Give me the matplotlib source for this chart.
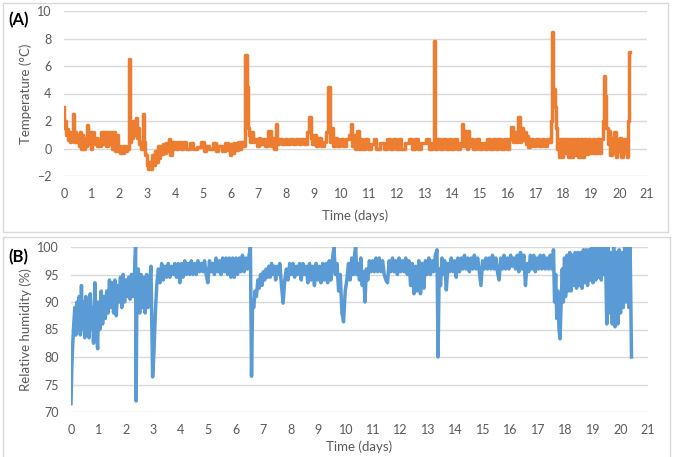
import matplotlib
matplotlib.use("Agg")
import matplotlib.pyplot as plt
from matplotlib.patches import Rectangle

plt.rcParams['font.family'] = ['Lato', 'DejaVu Sans']

# temperature (panel A): time in days, value in degC
temp_t = [0.00, 0.03, 0.06, 0.09, 0.12, 0.15, 0.18, 0.22, 0.26, 0.30,
          0.35, 0.38, 0.42, 0.46, 0.50, 0.55, 0.60, 0.64, 0.68, 0.72,
          0.76, 0.80, 0.86, 0.90, 0.95, 1.00, 1.05, 1.10, 1.15, 1.20,
          1.25, 1.30, 1.40, 1.45, 1.50, 1.55, 1.60, 1.65, 1.70, 1.75,
          1.80, 1.85, 1.92, 1.96, 2.00, 2.05, 2.10, 2.15, 2.20, 2.25,
          2.30, 2.36, 2.40, 2.44, 2.48, 2.52, 2.56, 2.60, 2.64, 2.68,
          2.72, 2.76, 2.80, 2.86, 2.90, 2.95, 3.00, 3.05, 3.10, 3.15,
          3.20, 3.25, 3.30, 3.35, 3.40, 3.45, 3.50, 3.55, 3.60, 3.65,
          3.70, 3.75, 3.80, 3.85, 3.90, 3.95, 4.00, 4.05, 4.15, 4.25,
          4.35, 4.45, 4.60, 4.70, 4.85, 5.00, 5.05, 5.15, 5.30, 5.45,
          5.50, 5.60, 5.75, 5.85, 5.95, 6.00, 6.05, 6.10, 6.15, 6.20,
          6.30, 6.35, 6.42, 6.48, 6.55, 6.60, 6.64, 6.68, 6.72, 6.78,
          6.82, 6.90, 7.00, 7.05, 7.10, 7.20, 7.30, 7.42, 7.48, 7.55,
          7.60, 7.65, 7.70, 7.80, 7.90, 8.00, 8.10, 8.20, 8.30, 8.40,
          8.50, 8.60, 8.70, 8.80, 8.86, 8.92, 8.98, 9.05, 9.10, 9.20,
          9.30, 9.40, 9.48, 9.55, 9.60, 9.65, 9.70, 9.80, 9.90, 10.00,
          10.10, 10.20, 10.30, 10.34, 10.40, 10.45, 10.50, 10.60, 10.65, 10.70,
          10.80, 10.90, 11.00, 11.10, 11.20, 11.30, 11.45, 11.60, 11.70, 11.80,
          11.90, 12.00, 12.10, 12.20, 12.35, 12.50, 12.60, 12.70, 12.80, 12.95,
          13.10, 13.20, 13.30, 13.35, 13.40, 13.50, 13.60, 13.70, 13.80, 13.90,
          14.00, 14.10, 14.20, 14.30, 14.35, 14.40, 14.48, 14.52, 14.58, 14.62,
          14.70, 14.80, 14.90, 15.00, 15.10, 15.20, 15.30, 15.40, 15.50, 15.60,
          15.70, 15.80, 15.90, 16.00, 16.05, 16.12, 16.20, 16.25, 16.30, 16.38,
          16.45, 16.50, 16.55, 16.60, 16.65, 16.70, 16.75, 16.85, 16.95, 17.05,
          17.15, 17.25, 17.35, 17.45, 17.50, 17.55, 17.60, 17.65, 17.70, 17.75,
          17.80, 17.85, 17.90, 17.95, 18.00, 18.05, 18.12, 18.18, 18.25, 18.30,
          18.38, 18.45, 18.50, 18.55, 18.62, 18.70, 18.78, 18.85, 18.92, 19.00,
          19.08, 19.15, 19.22, 19.30, 19.38, 19.42, 19.47, 19.52, 19.56, 19.60,
          19.65, 19.70, 19.75, 19.80, 19.85, 19.90, 19.95, 20.00, 20.05, 20.10,
          20.15, 20.20, 20.25, 20.30, 20.33, 20.37]
temp_v = [3.0, 1.5, 2.0, 1.0, 1.4, 0.6, 1.2, 0.5, 1.1, 0.6,
          2.5, 0.5, 1.2, 0.5, 1.0, 0.2, 1.2, 0.0, 1.0, 0.0,
          0.8, 0.2, 1.7, 0.3, 1.2, 0.0, 1.2, 0.3, 0.8, 0.2,
          0.7, 0.2, 1.2, 0.3, 1.2, 0.2, 1.2, 0.3, 1.2, 0.0,
          1.2, -0.2, 1.0, -0.2, 0.2, -0.3, 0.2, -0.3, 0.2, -0.2,
          0.0, 6.5, 0.5, 1.5, 0.8, 2.0, 1.0, 2.2, 0.8, 1.5,
          0.3, 0.5, 0.0, 2.5, 0.5, -0.5, -1.2, -1.5, -1.0, -1.5,
          -0.5, -1.2, -0.2, -1.0, 0.2, -0.7, 0.2, -0.4, 0.3, -0.3,
          0.4, -0.2, 0.7, -0.5, 0.5, 0.0, 0.5, 0.0, 0.5, 0.0,
          0.5, 0.0, 0.4, 0.0, 0.1, 0.5, -0.2, 0.2, 0.0, 0.4,
          -0.2, 0.2, -0.2, 0.4, -0.1, -0.5, 0.3, -0.3, 0.4, -0.1,
          0.5, 0.0, 0.5, 0.2, 6.8, 4.5, 1.5, 1.0, 0.5, 1.2,
          0.5, 0.7, 0.2, 0.8, 0.3, 0.7, 0.2, 1.3, 0.2, 0.8,
          0.0, 1.8, 0.3, 0.7, 0.3, 0.7, 0.3, 0.7, 0.3, 0.7,
          0.3, 0.7, 0.3, 1.2, 2.3, 0.8, 0.3, 1.0, 0.2, 0.8,
          0.2, 0.5, 1.2, 4.5, 0.5, 1.5, 0.2, 0.8, 0.2, 0.7,
          0.2, 0.7, 1.0, 1.8, 0.2, 1.0, 0.0, 1.3, 0.0, 0.7,
          0.0, 0.7, 0.0, 0.3, 0.7, 0.0, 0.4, 0.0, 0.7, 0.0,
          0.7, 0.0, 0.7, 0.0, 0.4, 0.7, 0.0, 0.7, 0.0, 0.4,
          0.7, 0.0, 0.4, 7.8, 0.0, 0.7, 0.0, 0.7, 0.0, 0.7,
          0.0, 0.7, 0.0, 0.4, 1.8, 0.2, 1.3, 0.0, 1.3, 0.2,
          0.7, 0.0, 0.7, 0.0, 0.4, 0.0, 0.7, 0.0, 0.7, 0.0,
          0.7, 0.0, 0.7, 0.0, 0.7, 1.6, 0.5, 1.2, 0.5, 2.3,
          0.5, 1.5, 0.6, 1.2, 0.3, 0.9, 0.1, 0.7, 0.2, 0.7,
          0.2, 0.7, 0.2, 0.7, 0.5, 2.0, 8.5, 4.3, 3.0, 1.5,
          0.0, -0.6, 0.7, -0.6, 0.7, -0.3, 0.7, -0.6, 0.7, -0.6,
          0.7, -0.5, 0.7, -0.6, 0.7, -0.6, 0.7, -0.4, 0.7, -0.3,
          0.7, -0.3, 0.7, -0.3, 0.7, 2.0, 5.3, 3.8, 1.5, 0.3,
          1.3, -0.5, 0.8, -0.3, 1.2, -0.6, 0.7, -0.2, 0.8, -0.6,
          0.7, -0.3, 0.7, -0.6, 2.0, 7.0]

# relative humidity (panel B): time in days, value in %
rh_t = [0.00, 0.03, 0.06, 0.10, 0.14, 0.18, 0.22, 0.26, 0.30, 0.34,
        0.38, 0.42, 0.46, 0.50, 0.54, 0.58, 0.62, 0.66, 0.70, 0.74,
        0.78, 0.82, 0.87, 0.92, 0.97, 1.00, 1.05, 1.10, 1.15, 1.20,
        1.25, 1.30, 1.35, 1.40, 1.45, 1.50, 1.55, 1.60, 1.65, 1.70,
        1.75, 1.80, 1.85, 1.90, 1.95, 2.00, 2.05, 2.10, 2.15, 2.20,
        2.25, 2.30, 2.35, 2.37, 2.40, 2.45, 2.50, 2.55, 2.60, 2.65,
        2.70, 2.75, 2.80, 2.85, 2.91, 2.97, 3.02, 3.07, 3.12, 3.18,
        3.24, 3.30, 3.36, 3.42, 3.48, 3.54, 3.60, 3.66, 3.72, 3.78,
        3.84, 3.90, 3.96, 4.02, 4.08, 4.14, 4.20, 4.26, 4.32, 4.38,
        4.44, 4.50, 4.56, 4.62, 4.68, 4.74, 4.80, 4.86, 4.92, 4.98,
        5.04, 5.10, 5.16, 5.22, 5.28, 5.34, 5.40, 5.46, 5.52, 5.58,
        5.64, 5.70, 5.76, 5.82, 5.88, 5.94, 6.00, 6.06, 6.12, 6.18,
        6.24, 6.30, 6.36, 6.42, 6.48, 6.53, 6.57, 6.61, 6.65, 6.70,
        6.75, 6.80, 6.85, 6.90, 6.95, 7.00, 7.05, 7.10, 7.15, 7.20,
        7.25, 7.30, 7.35, 7.40, 7.45, 7.50, 7.55, 7.60, 7.66, 7.72,
        7.78, 7.84, 7.90, 7.96, 8.02, 8.08, 8.14, 8.20, 8.26, 8.32,
        8.38, 8.44, 8.50, 8.56, 8.62, 8.68, 8.74, 8.80, 8.86, 8.92,
        8.98, 9.04, 9.10, 9.16, 9.22, 9.28, 9.34, 9.40, 9.46, 9.52,
        9.57, 9.62, 9.68, 9.74, 9.80, 9.86, 9.92, 9.98, 10.04, 10.10,
        10.16, 10.22, 10.28, 10.33, 10.36, 10.40, 10.45, 10.50, 10.55, 10.60,
        10.65, 10.70, 10.75, 10.80, 10.86, 10.92, 10.98, 11.04, 11.10, 11.16,
        11.22, 11.28, 11.34, 11.40, 11.46, 11.52, 11.58, 11.64, 11.70, 11.76,
        11.82, 11.88, 11.94, 12.00, 12.06, 12.12, 12.18, 12.24, 12.30, 12.36,
        12.42, 12.48, 12.54, 12.60, 12.66, 12.72, 12.78, 12.84, 12.90, 12.96,
        13.02, 13.08, 13.14, 13.20, 13.26, 13.32, 13.36, 13.40, 13.45, 13.50,
        13.55, 13.60, 13.66, 13.72, 13.78, 13.84, 13.90, 13.96, 14.02, 14.08,
        14.14, 14.20, 14.26, 14.32, 14.38, 14.44, 14.50, 14.56, 14.62, 14.68,
        14.74, 14.80, 14.86, 14.92, 14.98, 15.04, 15.10, 15.16, 15.22, 15.28,
        15.34, 15.40, 15.46, 15.52, 15.58, 15.64, 15.70, 15.76, 15.82, 15.88,
        15.94, 16.00, 16.06, 16.12, 16.18, 16.24, 16.30, 16.36, 16.42, 16.48,
        16.54, 16.60, 16.66, 16.72, 16.78, 16.84, 16.90, 16.96, 17.02, 17.08,
        17.14, 17.20, 17.26, 17.32, 17.38, 17.44, 17.50, 17.56, 17.60, 17.64,
        17.68, 17.72, 17.76, 17.80, 17.84, 17.88, 17.92, 17.96, 18.00, 18.05,
        18.10, 18.15, 18.20, 18.25, 18.30, 18.35, 18.40, 18.45, 18.50, 18.55,
        18.60, 18.65, 18.70, 18.75, 18.80, 18.85, 18.90, 18.95, 19.00, 19.05,
        19.10, 19.15, 19.20, 19.25, 19.30, 19.35, 19.40, 19.45, 19.50, 19.55,
        19.60, 19.65, 19.70, 19.75, 19.80, 19.85, 19.90, 19.95, 20.00, 20.05,
        20.10, 20.15, 20.20, 20.25, 20.30, 20.35, 20.40]
rh_v = [71.5, 78, 82, 86, 89, 84, 90, 85, 91, 84,
        93, 85, 90, 83.5, 91, 84, 89, 83.5, 91.5, 85,
        89, 82.5, 93.5, 85, 81.5, 90, 85, 92, 86, 91,
        87, 92, 88, 94, 89, 93.5, 88, 94, 87.5, 93,
        90, 94.5, 89, 95, 90, 94, 91, 94.5, 90.5, 95,
        91, 94, 100, 72, 92, 96, 88, 95, 89, 94.5,
        88, 95, 89, 93, 96.5, 76.4, 81, 88, 93, 96,
        93.5, 97, 94, 96.5, 94.5, 97, 94.5, 96.5, 95, 97,
        94.5, 97, 93.5, 97, 94.5, 97.5, 95, 97, 95, 97.5,
        95, 97, 95, 97.5, 95.5, 97, 95.5, 97.5, 95, 93.5,
        97.5, 95.5, 97, 95, 98, 95.5, 97.5, 95, 98, 95.5,
        98, 95, 98, 94.5, 98, 94.5, 98, 95, 98, 95.5,
        98.5, 95.5, 98, 96, 98.5, 100, 76.5, 90, 89, 92,
        91, 94, 92.5, 95, 93, 95.5, 94, 96, 94.5, 96.5,
        94.5, 97, 95, 96.5, 94, 96.5, 95, 97, 93, 89.8,
        94, 96, 94, 97, 95, 97, 94.5, 96.5, 95, 97,
        94, 97, 95, 96.5, 93.5, 97, 94, 96.5, 93, 97,
        94, 96.5, 93.5, 97, 94, 97, 93.5, 97.5, 94, 98,
        100, 95, 97, 92, 95, 88, 86.4, 92, 94, 97,
        94, 98, 95, 99, 100, 95, 97, 94, 98, 93,
        95.5, 90, 96, 94, 97.5, 95.5, 97.5, 95.5, 98, 95.5,
        98, 95.5, 97.5, 95, 94, 93.5, 97.5, 95.5, 98, 95.5,
        97.5, 95, 98, 95.5, 97.5, 95.5, 98, 95, 97.5, 93,
        97, 91.5, 96.5, 92, 97.5, 91.5, 97, 92.5, 97.5, 95,
        98, 95, 97.5, 95.5, 98.5, 99.5, 80, 96, 93, 98,
        95, 97.5, 92.2, 97, 95.5, 98, 95.5, 97.5, 94.5, 98,
        95.5, 98, 96, 98.5, 96, 98, 95.5, 98, 96, 98.5,
        96, 98, 95.5, 93, 97.5, 96, 98, 96, 98, 96,
        98.5, 96, 98, 95.5, 94, 98, 96, 98.5, 96, 98,
        96, 98.5, 96.5, 98, 96, 98.5, 95.5, 99, 96, 98.5,
        93, 97, 95.5, 98.5, 96, 98.5, 95.5, 98, 96, 98.5,
        96, 98.5, 96, 98, 96, 98.5, 96, 99.5, 90, 95,
        87, 92, 85, 83.3, 90, 96, 90, 98, 91, 98.5,
        92, 99, 92, 98.5, 93, 99, 92.5, 99, 93, 99,
        92.5, 99.5, 93.5, 99.5, 93, 99.5, 94, 100, 93.5, 100,
        94, 100, 94.5, 100, 94, 100, 95, 100, 86, 100,
        88, 99, 86, 100, 85.5, 99, 86, 99.5, 88, 99,
        89, 100, 90, 100, 89, 100, 80]

day_ticks = list(range(0, 22))
temp_ticks = [-2, 0, 2, 4, 6, 8, 10]
rh_ticks = [70, 75, 80, 85, 90, 95, 100]

grey_txt = '#595959'
grid_col = '#d9d9d9'

W, H = 680, 457
fig = plt.figure(figsize=(W / 100, H / 100), dpi=100)

# panel frames
fig.patches.append(Rectangle((3 / W, 1 - 232 / H), 665 / W, 229 / H, transform=fig.transFigure,
                             fill=False, edgecolor=grid_col, lw=1))
fig.patches.append(Rectangle((3 / W, -0.01), 667 / W, 1 - 237 / H + 0.01, transform=fig.transFigure,
                             fill=False, edgecolor=grid_col, lw=1))

ax1 = fig.add_axes([64 / W, 1 - 176 / H, 583 / W, 165 / H])
ax2 = fig.add_axes([71 / W, 1 - 412 / H, 577 / W, 165 / H])


def style(ax, yticks, ylabel):
    ax.set_xlim(0, 21)
    ax.set_ylim(yticks[0], yticks[-1])
    ax.set_xticks(day_ticks)
    ax.set_yticks(yticks)
    for s in ax.spines.values():
        s.set_visible(False)
    ax.grid(axis='y', color=grid_col, lw=1)
    ax.set_axisbelow(True)
    ax.tick_params(length=0, labelsize=9, labelcolor=grey_txt, pad=9)
    ax.set_xlabel('Time (days)', fontsize=9.5, color=grey_txt)
    ax.set_ylabel(ylabel, fontsize=9.5, color=grey_txt)


style(ax1, temp_ticks, 'Temperature (°C)')
style(ax2, rh_ticks, 'Relative humidity (%)')

ax1.plot(temp_t, temp_v, color='#ED7D31', lw=2.5, drawstyle='steps-mid')
ax2.plot(rh_t, rh_v, color='#5B9BD5', lw=2.5)

ax1.xaxis.set_label_coords(0.5, -0.205)
ax1.yaxis.set_label_coords(-0.055, 0.5)
ax2.xaxis.set_label_coords(0.5, -0.175)
ax2.yaxis.set_label_coords(-0.068, 0.5)

fig.text(8 / W, 1 - 20 / H, '(A)', fontsize=12, fontweight='bold', va='center', ha='left')
fig.text(8 / W, 1 - 257 / H, '(B)', fontsize=12, fontweight='bold', va='center', ha='left')

fig.savefig('out.png', dpi=100)
